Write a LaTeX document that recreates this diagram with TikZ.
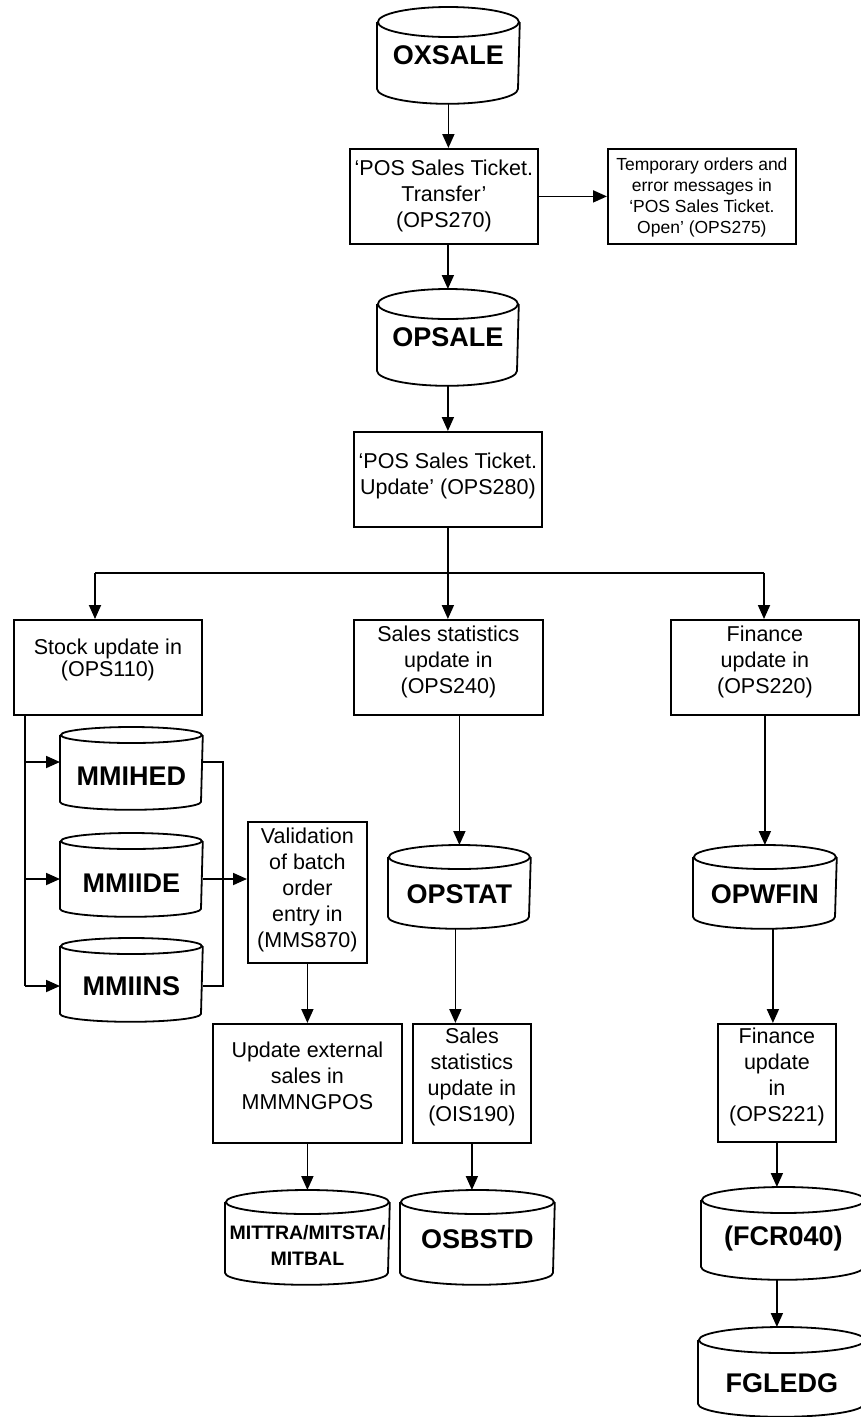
\documentclass[tikz,border=0pt]{standalone}
\usepackage{fontspec}
\setmainfont{Liberation Sans}
\usetikzlibrary{arrows.meta}
\tikzset{
  arr/.style={-{Triangle[length=14pt,width=12pt]}},
  boxn/.style={draw, rectangle, inner sep=0pt, anchor=north west},
  cylbox/.style={rectangle, inner sep=0pt, anchor=north west},
  btxt/.style={align=center, font=\fontsize{21.5}{26}\selectfont, inner sep=0pt},
  ktxt/.style={align=center, font=\fontsize{21.5}{22}\selectfont, inner sep=0pt},
  stxt/.style={align=center, font=\fontsize{17.5}{21}\selectfont, inner sep=0pt},
  dtxt/.style={align=center, font=\fontsize{27}{32}\selectfont\bfseries, inner sep=0pt},
  mtxt/.style={align=center, font=\fontsize{19.5}{26}\selectfont\bfseries, inner sep=0pt},
}
% #1 name #2 x1 #3 y1 #4 width #5 height #6 text style #7 yshift #8 text
\newcommand\mybox[8]{%
  \node[boxn, minimum width=#4pt, minimum height=#5pt,
        label={[#6, yshift=#7pt]center:{#8}}] (#1) at (#2,#3) {};}
% #1 name #2 x1 #3 y1 #4 width #5 height #6 ry #7 yshift #8 style #9 text
\newcommand\mycyl[9]{%
  \node[cylbox, minimum width=#4pt, minimum height=#5pt,
        label={[#8, yshift=#7pt]center:{#9}}] (#1) at (#2,#3) {};
  \draw ([yshift=-#6pt]#1.north west) -- ([yshift=#6pt]#1.south west)
        arc[start angle=180, end angle=360, x radius=#4pt/2, y radius=#6pt]
        -- ([yshift=-#6pt]#1.north east);
  \draw ([yshift=-#6pt]#1.north) ellipse [x radius=#4pt/2, y radius=#6pt];}
\begin{document}
\begin{tikzpicture}[x=1pt, y=-1pt, line width=1.8pt]
\useasboundingbox (0,0) rectangle (861,1417);

% data stores
\mycyl{oxsale}{377}{7}{141}{95}{15}{0}{dtxt}{OXSALE}
\mycyl{opsale}{377}{289}{140}{95}{15}{0}{dtxt}{OPSALE}
\mycyl{mmihed}{60}{727}{141}{81}{8}{-8}{dtxt}{MMIHED}
\mycyl{mmiide}{60}{833}{141}{82}{8}{-8}{dtxt}{MMIIDE}
\mycyl{mmiins}{60}{938}{141}{82}{8}{-6}{dtxt}{MMIINS}
\mycyl{opstat}{388}{845}{141}{82}{12}{-7}{dtxt}{OPSTAT}
\mycyl{opwfin}{693}{845}{142}{82}{12}{-7}{dtxt}{OPWFIN}
\mycyl{mittra}{225}{1190}{163}{93}{12}{-8}{mtxt}{MITTRA/MITSTA/\\MITBAL}
\mycyl{osbstd}{400}{1190}{153}{93}{12}{-2}{dtxt}{OSBSTD}
\mycyl{fcr040}{701}{1187}{163}{91}{13}{-5}{dtxt}{(FCR040)}
\mycyl{fgledg}{698}{1327}{166}{88}{13}{-11}{dtxt}{FGLEDG}

% processes
\mybox{ops270}{349}{148}{188}{95}{btxt}{0}{‘POS Sales Ticket.\\Transfer’\\(OPS270)}
\mybox{ops275}{607}{148}{188}{95}{stxt}{-1}{Temporary orders and\\error messages in\\‘POS Sales Ticket.\\Open’ (OPS275)}
\mybox{ops280}{353}{431}{188}{95}{btxt}{3}{‘POS Sales Ticket.\\Update’ (OPS280)}
\mybox{ops110}{13}{619}{188}{95}{ktxt}{7}{Stock update in\\(OPS110)}
\mybox{ops240}{353}{619}{189}{95}{btxt}{5}{Sales statistics\\update in\\(OPS240)}
\mybox{ops220}{670}{619}{188}{95}{btxt}{5}{Finance\\update in\\(OPS220)}
\mybox{mms870}{247}{821}{119}{141}{btxt}{2}{Validation\\of batch\\order\\entry in\\(MMS870)}
\mybox{mmmng}{212}{1023}{189}{119}{btxt}{8}{Update external\\sales in\\MMMNGPOS}
\mybox{ois190}{412}{1023}{118}{119}{btxt}{6}{Sales\\statistics\\update in\\(OIS190)}
\mybox{ops221}{717}{1023}{118}{118}{btxt}{6}{Finance\\update\\in\\(OPS221)}

% connectors: top chain
\draw[arr] (oxsale.south) -- (oxsale.south |- ops270.north);
\draw[arr] (ops270.east) -- (ops275.west);
\draw[arr] (opsale.north |- ops270.south) -- (opsale.north);
\draw[arr] (opsale.south) -- (opsale.south |- ops280.north);

% distribution bar
\coordinate (barL) at (95,573);
\coordinate (barR) at (764,573);
\draw (barL) -- (barR);
\draw[arr] (barL) -- (barL |- ops110.north);
\draw[arr] (barR) -- (barR |- ops220.north);
\draw[arr] (ops280.south) -- (ops280.south |- ops240.north);

% stock branch
\coordinate (t1) at (25,762);
\coordinate (t2) at (25,879);
\coordinate (t3) at (25,986);
\coordinate (r1) at (223,762);
\coordinate (r3) at (223,986);
\draw (t1 |- ops110.south) -- (t3);
\draw[arr] (t1) -- (t1 -| mmihed.west);
\draw[arr] (t2) -- (t2 -| mmiide.west);
\draw[arr] (t3) -- (t3 -| mmiins.west);
\draw (r1 -| mmihed.east) -- (r1) -- (r3) -- (r3 -| mmiins.east);
\draw[arr] (t2 -| mmiide.east) -- (t2 -| mms870.west);
\draw[arr] (mms870.south) -- (mms870.south |- mmmng.north);
\draw[arr] (mmmng.south) -- (mmmng.south |- mittra.north);

% statistics branch
\draw[arr] (opstat.north |- ops240.south) -- (opstat.north);
\draw[arr] ([xshift=-4pt]opstat.south) -- ([xshift=-4pt]opstat.south |- ois190.north);
\draw[arr] (ois190.south) -- (ois190.south |- osbstd.north);

% finance branch
\draw[arr] (ops220.south) -- (ops220.south |- opwfin.north);
\draw[arr] ([xshift=8pt]opwfin.south) -- ([xshift=8pt]opwfin.south |- ops221.north);
\draw[arr] (ops221.south) -- (ops221.south |- fcr040.north);
\draw[arr] (ops221.south |- fcr040.south) -- (ops221.south |- fgledg.north);
\end{tikzpicture}
\end{document}
